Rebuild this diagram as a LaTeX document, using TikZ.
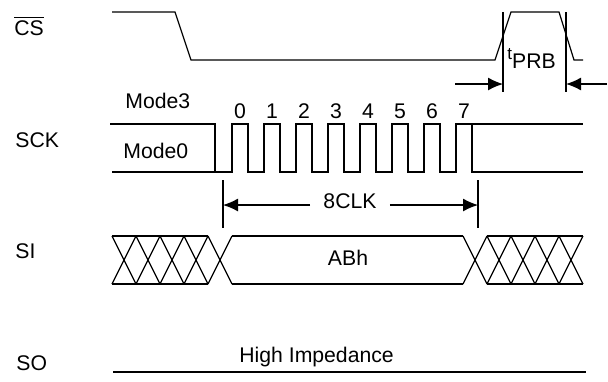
\documentclass[tikz,border=0pt]{standalone}
\usepackage{fontspec}
\setmainfont{Liberation Sans}
\usepackage{tikz}
\usetikzlibrary{calc, arrows.meta}
\tikzstyle{wave}  = [line width=0.6pt, line join=miter]
\tikzstyle{lbl}   = [inner sep=0pt, font=\fontsize{10.6}{12}\selectfont]
\tikzstyle{dim}   = [line width=0.6pt, -{Latex[length=7.5pt,width=6.5pt]}]

\begin{document}
\begin{tikzpicture}[x=0.5pt, y=-0.5pt]
  \useasboundingbox (0,0) rectangle (608,381);

  %put the signal names on the left
  \node[lbl, anchor=base west] (cs)  at (14,35)  {$\overline{\mbox{CS}}$};
  \node[lbl, anchor=base west] (sck) at (15,147) {SCK};
  \node[lbl, anchor=base west] (si)  at (15,258) {SI};
  \node[lbl, anchor=base west] (so)  at (16,370) {SO};

  %chip select
  \draw[wave] (112,12) -- (175,12) -- (191,60) -- (495,60) -- (511,12)
    -- (559,12) -- (574,60) -- (583,60);

  %tPRB
  \coordinate (prbL) at (503,84);
  \coordinate (prbR) at (566,84);
  \coordinate (prbLo) at (455,84);
  \coordinate (prbRo) at (607,84);
  \draw[wave] (503,12) -- (503,92);
  \draw[wave] (566,12) -- (566,92);
  \draw[dim] (prbLo) -- (prbL);
  \draw[dim] (prbRo) -- (prbR);
  \node[lbl, anchor=base west] (prb) at (507,68)
    {\raisebox{0.42em}{\fontsize{8.5}{9}\selectfont t}PRB};

  %clock, both modes
  \node[lbl, anchor=base west] (mode3) at (125,108) {Mode3};
  \node[lbl, anchor=base west] (mode0) at (123,158) {Mode0};
  \draw[wave] (110,124) -- (215,124) -- (215,172);
  \draw[wave] (112,172)
    \foreach \i in {0,...,7}{
      -- ({232+32*\i},172) -- ({232+32*\i},124) -- ({248+32*\i},124) -- ({248+32*\i},172)
    } -- (583,172);
  \draw[wave] (472,124) -- (583,124);
  \foreach \i in {0,...,7}{
    \node[lbl, anchor=base] (bit\i) at ({240+32*\i},118) {\i};
  }

  %8 clocks
  \coordinate (clkA) at (223,205);
  \coordinate (clkB) at (478,205);
  \draw[wave] (223,180) -- (223,228);
  \draw[wave] (478,180) -- (478,228);
  \node[lbl, anchor=base, inner xsep=6.5pt] (clk) at (350,208) {8CLK};
  \draw[dim] (clk.west |- clkA) -- (clkA);
  \draw[dim] (clk.east |- clkB) -- (clkB);

  %serial in
  \foreach \x in {112,136,160,184,208,463,487,511,535,559}{
    \draw[wave] (\x,236) -- (\x+24,284);
    \draw[wave] (\x,284) -- (\x+24,236);
  }
  \draw[wave] (112,236) -- (208,236);
  \draw[wave] (112,284) -- (208,284);
  \draw[wave] (232,236) -- (463,236);
  \draw[wave] (232,284) -- (463,284);
  \draw[wave] (487,236) -- (583,236);
  \draw[wave] (487,284) -- (583,284);
  \node[lbl, anchor=base] (abh) at (348,265) {ABh};

  %serial out
  \draw[wave] (113,372) -- (586,372);
  \node[lbl, anchor=base west] (hiz) at (239,362) {High Impedance};
\end{tikzpicture}
\end{document}
